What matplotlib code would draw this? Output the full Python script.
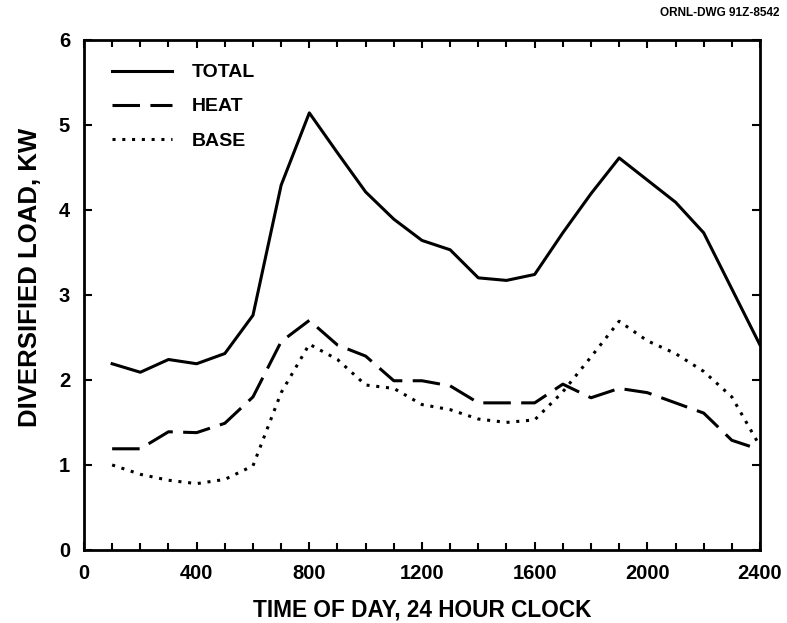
import numpy as np
import matplotlib.pyplot as plt
from matplotlib.ticker import MultipleLocator

plt.rcParams['font.family'] = ['Liberation Sans', 'DejaVu Sans']

hora = [100, 200, 300, 400, 500, 600, 700, 800, 900, 1000, 1100, 1200,
        1300, 1400, 1500, 1600, 1700, 1800, 1900, 2000, 2100, 2200, 2300, 2400]
total = [2.19, 2.09, 2.24, 2.19, 2.31, 2.76, 4.29, 5.14, 4.67, 4.21, 3.89, 3.64,
         3.53, 3.20, 3.17, 3.24, 3.73, 4.19, 4.61, 4.35, 4.09, 3.73, 3.07, 2.41]
heat = [1.19, 1.19, 1.39, 1.38, 1.49, 1.80, 2.45, 2.70, 2.41, 2.28, 1.99, 1.99,
        1.93, 1.73, 1.73, 1.73, 1.95, 1.79, 1.90, 1.85, 1.73, 1.61, 1.29, 1.18]
base = [1.00, 0.89, 0.82, 0.78, 0.83, 0.99, 1.85, 2.42, 2.24, 1.94, 1.90, 1.71,
        1.65, 1.54, 1.50, 1.53, 1.86, 2.27, 2.69, 2.46, 2.31, 2.10, 1.80, 1.22]

fig = plt.figure(figsize=(7.87, 6.23), dpi=100)
ax = fig.add_axes([0.1067, 0.1172, 0.859, 0.819])

ax.plot(hora, total, color='black', lw=2.2, label='TOTAL')
ax.plot(hora, heat, color='black', lw=2.2, dashes=(9, 3.4), label='HEAT')
ax.plot(hora, base, color='black', lw=2.2, dashes=(1, 2.2), label='BASE')

ax.set_xlim(0, 2400)
ax.set_ylim(0, 6)
ax.xaxis.set_major_locator(MultipleLocator(400))
ax.xaxis.set_minor_locator(MultipleLocator(100))
ax.yaxis.set_major_locator(MultipleLocator(1))
ax.tick_params(which='both', direction='in', top=True, right=True, width=1.5,
               labelsize=14.5, pad=10)
ax.tick_params(which='major', length=6)
ax.tick_params(which='minor', length=5)
for lbl in ax.get_xticklabels() + ax.get_yticklabels():
    lbl.set_fontweight('bold')
for s in ax.spines.values():
    s.set_linewidth(2)

ax.set_xlabel('TIME OF DAY, 24 HOUR CLOCK', fontsize=16.3, fontweight='bold',
              labelpad=11)
ax.set_ylabel('DIVERSIFIED LOAD, KW', fontsize=18.5, fontweight='bold',
              labelpad=12, y=0.535)

ax.legend(loc='upper left', bbox_to_anchor=(0.0414, 0.953), frameon=False,
          prop={'size': 14, 'weight': 'bold'}, handlelength=3.1,
          handletextpad=1.0, labelspacing=0.85, borderaxespad=0, borderpad=0)

fig.text(0.991, 0.989, 'ORNL-DWG 91Z-8542', ha='right', va='top',
         fontsize=8.5, fontweight='bold')

plt.savefig('out.png', dpi=100)
